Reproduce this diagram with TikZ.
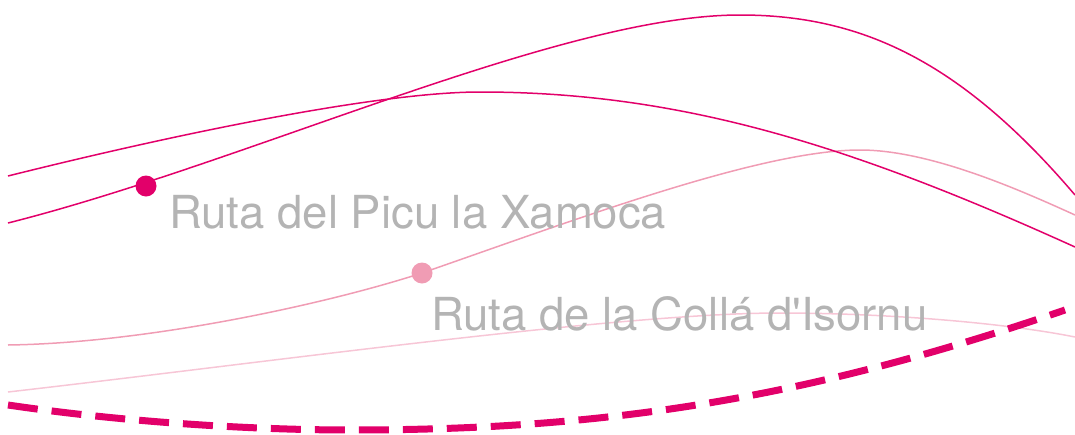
\documentclass[tikz,border=0pt]{standalone}
\usepackage{fontspec}
\setmainfont{TeX Gyre Heros}[Ligatures=TeXOff]
\definecolor{routedark}{HTML}{E2006A}
\definecolor{routemid}{HTML}{F09CB4}
\definecolor{routelight}{HTML}{F7C6D6}
\definecolor{labelgray}{HTML}{B4B4B4}
\begin{document}
\begin{tikzpicture}[x=1pt,y=-1pt,
  thinroute/.style={line width=1.5pt},
  dashroute/.style={line width=7pt, dash pattern=on 30pt off 14pt, color=routedark},
  dotmark/.style={circle, inner sep=0pt, minimum size=21pt},
  routelabel/.style={anchor=base west, inner sep=0pt, text=labelgray, font=\fontsize{45.5}{54}\selectfont}]
\useasboundingbox (0,0) rectangle (1075,434);
% very light route
\draw[thinroute, routelight] (8,392) .. controls (270,362) and (620,313) .. (780,313)
  .. controls (880,313) and (1000,322) .. (1075,337);
% light route
\draw[thinroute, routemid] (8,345) .. controls (150,343) and (330,303) .. (422,273)
  .. controls (572,221) and (760,150) .. (860,150)
  .. controls (930,150) and (1020,190) .. (1075,215);
% dark route B
\draw[thinroute, routedark] (8,176) .. controls (180,133) and (380,92) .. (480,92)
  .. controls (680,92) and (850,145) .. (1075,247);
% dark route A
\draw[thinroute, routedark] (8,223) .. controls (250,162) and (560,15) .. (740,15)
  .. controls (860,15) and (960,60) .. (1075,195);
% dashed route
\draw[dashroute] (8,405) .. controls (130,423) and (260,430) .. (350,430)
  .. controls (600,430) and (800,401) .. (1065,310);
% markers
\node[dotmark, fill=routedark] (dotA) at (146,186) {};
\node[dotmark, fill=routemid] (dotC) at (422,273) {};
% labels
\node[routelabel] (labA) at (169,228) {Ruta del Picu la Xamoca};
\node[routelabel] (labC) at (431,330) {Ruta de la Collá d'Isornu};
\end{tikzpicture}
\end{document}
